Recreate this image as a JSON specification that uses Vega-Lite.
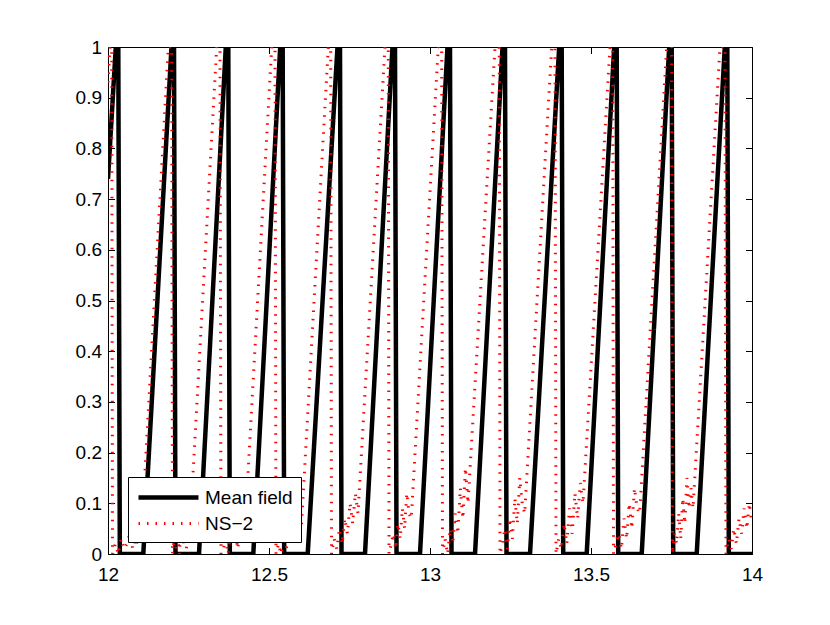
{
  "$schema": "https://vega.github.io/schema/vega-lite/v6.json",
  "width": 644,
  "height": 507,
  "autosize": {"type": "none"},
  "padding": {"left": 108, "top": 47, "right": 78, "bottom": 71},
  "background": "white",
  "config": {
    "view": {"stroke": "black", "strokeWidth": 1},
    "axis": {"grid": false, "domain": false, "tickColor": "black", "tickSize": -6.5, "tickWidth": 1, "labelFont": "Liberation Sans", "labelFontSize": 19, "labelColor": "black", "title": null, "labelFlush": false, "labelOverlap": false, "labelBound": false}
  },
  "data": {"values": [
    {"t": 12.0, "v": 0.74, "s": "Mean field"},
    {"t": 12.0242, "v": 1, "s": "Mean field"},
    {"t": 12.0320, "v": 1, "s": "Mean field"},
    {"t": 12.0367, "v": 0, "s": "Mean field"},
    {"t": 12.1096, "v": 0, "s": "Mean field"},
    {"t": 12.1972, "v": 1, "s": "Mean field"},
    {"t": 12.2050, "v": 1, "s": "Mean field"},
    {"t": 12.2096, "v": 0, "s": "Mean field"},
    {"t": 12.2826, "v": 0, "s": "Mean field"},
    {"t": 12.3658, "v": 1, "s": "Mean field"},
    {"t": 12.3736, "v": 1, "s": "Mean field"},
    {"t": 12.3783, "v": 0, "s": "Mean field"},
    {"t": 12.4512, "v": 0, "s": "Mean field"},
    {"t": 12.5348, "v": 1, "s": "Mean field"},
    {"t": 12.5425, "v": 1, "s": "Mean field"},
    {"t": 12.5472, "v": 0, "s": "Mean field"},
    {"t": 12.6202, "v": 0, "s": "Mean field"},
    {"t": 12.7127, "v": 1, "s": "Mean field"},
    {"t": 12.7205, "v": 1, "s": "Mean field"},
    {"t": 12.7252, "v": 0, "s": "Mean field"},
    {"t": 12.7981, "v": 0, "s": "Mean field"},
    {"t": 12.8835, "v": 1, "s": "Mean field"},
    {"t": 12.8913, "v": 1, "s": "Mean field"},
    {"t": 12.8960, "v": 0, "s": "Mean field"},
    {"t": 12.9689, "v": 0, "s": "Mean field"},
    {"t": 13.0543, "v": 1, "s": "Mean field"},
    {"t": 13.0621, "v": 1, "s": "Mean field"},
    {"t": 13.0668, "v": 0, "s": "Mean field"},
    {"t": 13.1398, "v": 0, "s": "Mean field"},
    {"t": 13.2252, "v": 1, "s": "Mean field"},
    {"t": 13.2329, "v": 1, "s": "Mean field"},
    {"t": 13.2376, "v": 0, "s": "Mean field"},
    {"t": 13.3106, "v": 0, "s": "Mean field"},
    {"t": 13.4012, "v": 1, "s": "Mean field"},
    {"t": 13.4090, "v": 1, "s": "Mean field"},
    {"t": 13.4137, "v": 0, "s": "Mean field"},
    {"t": 13.4866, "v": 0, "s": "Mean field"},
    {"t": 13.5720, "v": 1, "s": "Mean field"},
    {"t": 13.5798, "v": 1, "s": "Mean field"},
    {"t": 13.5845, "v": 0, "s": "Mean field"},
    {"t": 13.6575, "v": 0, "s": "Mean field"},
    {"t": 13.7429, "v": 1, "s": "Mean field"},
    {"t": 13.7506, "v": 1, "s": "Mean field"},
    {"t": 13.7553, "v": 0, "s": "Mean field"},
    {"t": 13.8283, "v": 0, "s": "Mean field"},
    {"t": 13.9155, "v": 1, "s": "Mean field"},
    {"t": 13.9233, "v": 1, "s": "Mean field"},
    {"t": 13.9280, "v": 0, "s": "Mean field"},
    {"t": 14.0, "v": 0, "s": "Mean field"},

    {"t": 12.0, "v": 0.93, "s": "NS-2"},
    {"t": 12.0062, "v": 1, "s": "NS-2"},
    {"t": 12.0115, "v": 1, "s": "NS-2"},
    {"t": 12.0140, "v": 0.0, "s": "NS-2"},
    {"t": 12.0229, "v": 0.02, "s": "NS-2"},
    {"t": 12.0319, "v": 0.0, "s": "NS-2"},
    {"t": 12.0408, "v": 0.03, "s": "NS-2"},
    {"t": 12.0498, "v": 0.01, "s": "NS-2"},
    {"t": 12.0587, "v": 0.02, "s": "NS-2"},
    {"t": 12.0676, "v": 0.04, "s": "NS-2"},
    {"t": 12.0766, "v": 0.01, "s": "NS-2"},
    {"t": 12.0855, "v": 0.03, "s": "NS-2"},
    {"t": 12.0945, "v": 0.02, "s": "NS-2"},
    {"t": 12.1034, "v": 0.03, "s": "NS-2"},
    {"t": 12.1873, "v": 1, "s": "NS-2"},
    {"t": 12.1978, "v": 1, "s": "NS-2"},
    {"t": 12.2003, "v": 0.0, "s": "NS-2"},
    {"t": 12.2056, "v": 0.03, "s": "NS-2"},
    {"t": 12.2110, "v": 0.01, "s": "NS-2"},
    {"t": 12.2163, "v": 0.04, "s": "NS-2"},
    {"t": 12.2217, "v": 0.0, "s": "NS-2"},
    {"t": 12.2270, "v": 0.05, "s": "NS-2"},
    {"t": 12.2323, "v": 0.02, "s": "NS-2"},
    {"t": 12.2377, "v": 0.04, "s": "NS-2"},
    {"t": 12.2430, "v": 0.01, "s": "NS-2"},
    {"t": 12.2484, "v": 0.03, "s": "NS-2"},
    {"t": 12.2537, "v": 0.04, "s": "NS-2"},
    {"t": 12.3376, "v": 1, "s": "NS-2"},
    {"t": 12.3478, "v": 1, "s": "NS-2"},
    {"t": 12.3509, "v": 0.0, "s": "NS-2"},
    {"t": 12.3583, "v": 0.01, "s": "NS-2"},
    {"t": 12.3656, "v": 0.03, "s": "NS-2"},
    {"t": 12.3730, "v": 0.0, "s": "NS-2"},
    {"t": 12.3803, "v": 0.04, "s": "NS-2"},
    {"t": 12.3877, "v": 0.02, "s": "NS-2"},
    {"t": 12.3951, "v": 0.05, "s": "NS-2"},
    {"t": 12.4024, "v": 0.01, "s": "NS-2"},
    {"t": 12.4098, "v": 0.04, "s": "NS-2"},
    {"t": 12.4171, "v": 0.03, "s": "NS-2"},
    {"t": 12.4245, "v": 0.04, "s": "NS-2"},
    {"t": 12.5084, "v": 1, "s": "NS-2"},
    {"t": 12.5186, "v": 1, "s": "NS-2"},
    {"t": 12.5217, "v": 0.0, "s": "NS-2"},
    {"t": 12.5296, "v": 0.02, "s": "NS-2"},
    {"t": 12.5375, "v": 0.0, "s": "NS-2"},
    {"t": 12.5453, "v": 0.04, "s": "NS-2"},
    {"t": 12.5532, "v": 0.01, "s": "NS-2"},
    {"t": 12.5610, "v": 0.03, "s": "NS-2"},
    {"t": 12.5689, "v": 0.06, "s": "NS-2"},
    {"t": 12.5768, "v": 0.02, "s": "NS-2"},
    {"t": 12.5846, "v": 0.05, "s": "NS-2"},
    {"t": 12.5925, "v": 0.04, "s": "NS-2"},
    {"t": 12.6003, "v": 0.05, "s": "NS-2"},
    {"t": 12.6842, "v": 1, "s": "NS-2"},
    {"t": 12.6916, "v": 1, "s": "NS-2"},
    {"t": 12.6941, "v": 0.0, "s": "NS-2"},
    {"t": 12.7023, "v": 0.03, "s": "NS-2"},
    {"t": 12.7106, "v": 0.01, "s": "NS-2"},
    {"t": 12.7188, "v": 0.05, "s": "NS-2"},
    {"t": 12.7270, "v": 0.02, "s": "NS-2"},
    {"t": 12.7353, "v": 0.07, "s": "NS-2"},
    {"t": 12.7435, "v": 0.04, "s": "NS-2"},
    {"t": 12.7517, "v": 0.10, "s": "NS-2"},
    {"t": 12.7599, "v": 0.06, "s": "NS-2"},
    {"t": 12.7682, "v": 0.12, "s": "NS-2"},
    {"t": 12.7764, "v": 0.08, "s": "NS-2"},
    {"t": 12.8602, "v": 1, "s": "NS-2"},
    {"t": 12.8705, "v": 1, "s": "NS-2"},
    {"t": 12.8727, "v": 0.0, "s": "NS-2"},
    {"t": 12.8796, "v": 0.02, "s": "NS-2"},
    {"t": 12.8865, "v": 0.04, "s": "NS-2"},
    {"t": 12.8934, "v": 0.01, "s": "NS-2"},
    {"t": 12.9004, "v": 0.06, "s": "NS-2"},
    {"t": 12.9073, "v": 0.03, "s": "NS-2"},
    {"t": 12.9142, "v": 0.09, "s": "NS-2"},
    {"t": 12.9211, "v": 0.05, "s": "NS-2"},
    {"t": 12.9280, "v": 0.12, "s": "NS-2"},
    {"t": 12.9350, "v": 0.08, "s": "NS-2"},
    {"t": 12.9419, "v": 0.07, "s": "NS-2"},
    {"t": 13.0258, "v": 1, "s": "NS-2"},
    {"t": 13.0363, "v": 1, "s": "NS-2"},
    {"t": 13.0388, "v": 0.0, "s": "NS-2"},
    {"t": 13.0467, "v": 0.03, "s": "NS-2"},
    {"t": 13.0546, "v": 0.0, "s": "NS-2"},
    {"t": 13.0626, "v": 0.05, "s": "NS-2"},
    {"t": 13.0705, "v": 0.02, "s": "NS-2"},
    {"t": 13.0784, "v": 0.08, "s": "NS-2"},
    {"t": 13.0863, "v": 0.04, "s": "NS-2"},
    {"t": 13.0942, "v": 0.13, "s": "NS-2"},
    {"t": 13.1022, "v": 0.07, "s": "NS-2"},
    {"t": 13.1101, "v": 0.17, "s": "NS-2"},
    {"t": 13.1180, "v": 0.10, "s": "NS-2"},
    {"t": 13.2019, "v": 1, "s": "NS-2"},
    {"t": 13.2152, "v": 1, "s": "NS-2"},
    {"t": 13.2174, "v": 0.0, "s": "NS-2"},
    {"t": 13.2251, "v": 0.02, "s": "NS-2"},
    {"t": 13.2327, "v": 0.05, "s": "NS-2"},
    {"t": 13.2404, "v": 0.01, "s": "NS-2"},
    {"t": 13.2481, "v": 0.07, "s": "NS-2"},
    {"t": 13.2558, "v": 0.03, "s": "NS-2"},
    {"t": 13.2634, "v": 0.11, "s": "NS-2"},
    {"t": 13.2711, "v": 0.06, "s": "NS-2"},
    {"t": 13.2788, "v": 0.15, "s": "NS-2"},
    {"t": 13.2864, "v": 0.10, "s": "NS-2"},
    {"t": 13.2941, "v": 0.08, "s": "NS-2"},
    {"t": 13.3780, "v": 1, "s": "NS-2"},
    {"t": 13.3882, "v": 1, "s": "NS-2"},
    {"t": 13.3913, "v": 0.0, "s": "NS-2"},
    {"t": 13.3997, "v": 0.03, "s": "NS-2"},
    {"t": 13.4081, "v": 0.01, "s": "NS-2"},
    {"t": 13.4165, "v": 0.06, "s": "NS-2"},
    {"t": 13.4249, "v": 0.02, "s": "NS-2"},
    {"t": 13.4333, "v": 0.09, "s": "NS-2"},
    {"t": 13.4416, "v": 0.04, "s": "NS-2"},
    {"t": 13.4500, "v": 0.12, "s": "NS-2"},
    {"t": 13.4584, "v": 0.07, "s": "NS-2"},
    {"t": 13.4668, "v": 0.14, "s": "NS-2"},
    {"t": 13.4752, "v": 0.10, "s": "NS-2"},
    {"t": 13.5590, "v": 1, "s": "NS-2"},
    {"t": 13.5674, "v": 1, "s": "NS-2"},
    {"t": 13.5699, "v": 0.0, "s": "NS-2"},
    {"t": 13.5780, "v": 0.02, "s": "NS-2"},
    {"t": 13.5862, "v": 0.04, "s": "NS-2"},
    {"t": 13.5943, "v": 0.01, "s": "NS-2"},
    {"t": 13.6025, "v": 0.07, "s": "NS-2"},
    {"t": 13.6106, "v": 0.03, "s": "NS-2"},
    {"t": 13.6187, "v": 0.10, "s": "NS-2"},
    {"t": 13.6269, "v": 0.05, "s": "NS-2"},
    {"t": 13.6350, "v": 0.13, "s": "NS-2"},
    {"t": 13.6431, "v": 0.09, "s": "NS-2"},
    {"t": 13.6512, "v": 0.08, "s": "NS-2"},
    {"t": 13.7351, "v": 1, "s": "NS-2"},
    {"t": 13.7506, "v": 1, "s": "NS-2"},
    {"t": 13.7531, "v": 0.0, "s": "NS-2"},
    {"t": 13.7595, "v": 0.04, "s": "NS-2"},
    {"t": 13.7658, "v": 0.02, "s": "NS-2"},
    {"t": 13.7722, "v": 0.08, "s": "NS-2"},
    {"t": 13.7786, "v": 0.03, "s": "NS-2"},
    {"t": 13.7850, "v": 0.11, "s": "NS-2"},
    {"t": 13.7913, "v": 0.06, "s": "NS-2"},
    {"t": 13.7977, "v": 0.15, "s": "NS-2"},
    {"t": 13.8041, "v": 0.09, "s": "NS-2"},
    {"t": 13.8104, "v": 0.13, "s": "NS-2"},
    {"t": 13.8168, "v": 0.09, "s": "NS-2"},
    {"t": 13.9006, "v": 1, "s": "NS-2"},
    {"t": 13.9161, "v": 1, "s": "NS-2"},
    {"t": 13.9193, "v": 0.0, "s": "NS-2"},
    {"t": 13.9273, "v": 0.03, "s": "NS-2"},
    {"t": 13.9354, "v": 0.01, "s": "NS-2"},
    {"t": 13.9435, "v": 0.05, "s": "NS-2"},
    {"t": 13.9516, "v": 0.02, "s": "NS-2"},
    {"t": 13.9596, "v": 0.07, "s": "NS-2"},
    {"t": 13.9677, "v": 0.04, "s": "NS-2"},
    {"t": 13.9758, "v": 0.09, "s": "NS-2"},
    {"t": 13.9839, "v": 0.05, "s": "NS-2"},
    {"t": 13.9919, "v": 0.10, "s": "NS-2"},
    {"t": 14.0, "v": 0.06, "s": "NS-2"}
  ]},
  "layer": [
    {
      "mark": {"type": "line", "clip": true, "strokeCap": "butt"},
      "encoding": {
        "x": {"field": "t", "type": "quantitative", "scale": {"domain": [12, 14], "nice": false, "zero": false},
              "axis": {"orient": "bottom", "values": [12, 12.5, 13, 13.5, 14], "format": "~g", "labelPadding": 18}},
        "y": {"field": "v", "type": "quantitative", "scale": {"domain": [0, 1], "nice": false},
              "axis": {"orient": "left", "values": [0, 0.1, 0.2, 0.3, 0.4, 0.5, 0.6, 0.7, 0.8, 0.9, 1], "format": "~g", "labelPadding": 13}},
        "color": {"field": "s", "type": "nominal",
                  "scale": {"domain": ["Mean field", "NS-2"], "range": ["#000000", "#ff0000"]},
                  "legend": {"title": null, "orient": "none", "legendX": 20, "legendY": 430, "symbolType": "M-1,0H5", "symbolSize": 400, "labelFontSize": 19, "labelFont": "Liberation Sans", "labelColor": "black", "labelOffset": 44, "strokeColor": "black", "fillColor": "white", "padding": 8, "rowPadding": 4, "cornerRadius": 0, "labelExpr": "datum.label == 'NS-2' ? 'NS\u22122' : datum.label"}},
        "strokeDash": {"field": "s", "type": "nominal",
                  "scale": {"domain": ["Mean field", "NS-2"], "range": [[1, 0], [1.5, 7]]},
                  "legend": {"title": null, "orient": "none", "legendX": 20, "legendY": 430, "symbolType": "M-1,0H5", "symbolSize": 400, "labelFontSize": 19, "labelFont": "Liberation Sans", "labelColor": "black", "labelOffset": 44, "strokeColor": "black", "fillColor": "white", "padding": 8, "rowPadding": 4, "cornerRadius": 0, "labelExpr": "datum.label == 'NS-2' ? 'NS\u22122' : datum.label"}},
        "strokeWidth": {"field": "s", "type": "nominal",
                  "scale": {"domain": ["Mean field", "NS-2"], "range": [4.5, 3]},
                  "legend": {"title": null, "orient": "none", "legendX": 20, "legendY": 430, "symbolType": "M-1,0H5", "symbolSize": 400, "labelFontSize": 19, "labelFont": "Liberation Sans", "labelColor": "black", "labelOffset": 44, "strokeColor": "black", "fillColor": "white", "padding": 8, "rowPadding": 4, "cornerRadius": 0, "labelExpr": "datum.label == 'NS-2' ? 'NS\u22122' : datum.label"}}
      }
    },
    {
      "mark": {"type": "point", "opacity": 0},
      "encoding": {
        "x": {"field": "t", "type": "quantitative", "scale": {"domain": [12, 14], "nice": false, "zero": false},
              "axis": {"orient": "top", "values": [12, 12.5, 13, 13.5, 14], "labels": false}},
        "y": {"field": "v", "type": "quantitative", "scale": {"domain": [0, 1], "nice": false},
              "axis": {"orient": "right", "values": [0, 0.1, 0.2, 0.3, 0.4, 0.5, 0.6, 0.7, 0.8, 0.9, 1], "labels": false}}
      }
    }
  ],
  "resolve": {"axis": {"x": "independent", "y": "independent"}}
}
